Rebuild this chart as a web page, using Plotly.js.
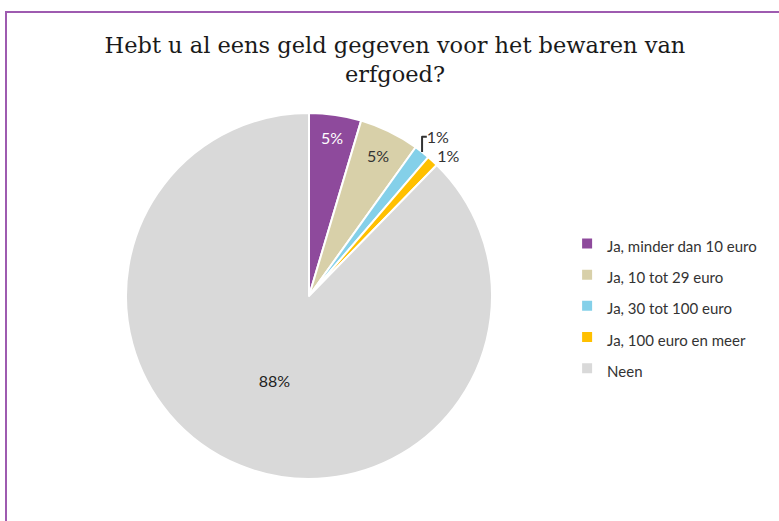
<!DOCTYPE html>
<html>
<head>
<meta charset="utf-8">
<script src="https://cdn.plot.ly/plotly-3.0.1.min.js"></script>
<style>
  html, body { margin: 0; padding: 0; background: #fff; }
  #wrap { position: relative; width: 779px; height: 521px; overflow: hidden; }
  #frame { position: absolute; left: 5px; top: 11px; width: 800px; height: 600px;
           border-left: 2px solid #9E5BB0; border-top: 2px solid #9E5BB0; box-sizing: border-box; }
  #chart { position: absolute; left: 0; top: 0; width: 779px; height: 521px; }
</style>
</head>
<body>
<div id="wrap">
  <div id="frame"></div>
  <div id="chart"></div>
</div>
<script>
const categories = ["Ja, minder dan 10 euro", "Ja, 10 tot 29 euro", "Ja, 30 tot 100 euro", "Ja, 100 euro en meer", "Neen"];
const values = [4.6, 5.3, 1.4, 1.0, 87.7];
const colors = ["#8E4A9C", "#D8D0A9", "#84D0E9", "#FFC000", "#D9D9D9"];
const textColors = ["#FFFFFF", "#333333", "#333333", "#333333", "#222222"];
const textPositions = ["inside", "inside", "outside", "outside", "inside"];

const W = 779, H = 521;
const cx = 309, cy = 296, r = 183;

// legend entries: larger legend font gives the wide row spacing, span keeps the text size
const legendLabels = categories.map(c => "<span style='font-size:15px'>" + c + "</span>");

const trace = {
  type: "pie",
  labels: legendLabels,
  values: values,
  sort: false,
  direction: "clockwise",
  rotation: 0,
  marker: { colors: colors, line: { color: "#FFFFFF", width: 2 } },
  texttemplate: "%{percent:.0%}",
  textposition: textPositions,
  insidetextorientation: "horizontal",
  textfont: { family: "Lato, 'Noto Sans', sans-serif", size: 16, color: textColors },
  outsidetextfont: { family: "Lato, 'Noto Sans', sans-serif", size: 16, color: "#333333" },
  hoverinfo: "percent",
  domain: { x: [(cx - r) / W, (cx + r) / W], y: [1 - (cy + r) / H, 1 - (cy - r) / H] },
  automargin: false
};

const layout = {
  width: W, height: H,
  margin: { l: 0, r: 0, t: 0, b: 0 },
  paper_bgcolor: "rgba(0,0,0,0)",
  plot_bgcolor: "rgba(0,0,0,0)",
  title: {
    text: "Hebt u al eens geld gegeven voor het bewaren van<br>erfgoed?",
    font: { family: "'DejaVu Serif', 'Liberation Serif', serif", size: 22.5, color: "#1a1a1a" },
    x: 0.507, xanchor: "center", y: 0.898, yanchor: "middle", xref: "paper", yref: "paper"
  },
  showlegend: true,
  legend: {
    x: 0.728, xanchor: "left", y: 0.412, yanchor: "middle",
    font: { family: "Lato, 'Noto Sans', sans-serif", size: 21.7, color: "#333333" },
    bgcolor: "rgba(0,0,0,0)"
  }
};

Plotly.newPlot("chart", [trace], layout, { displayModeBar: false, staticPlot: true });
</script>
</body>
</html>
